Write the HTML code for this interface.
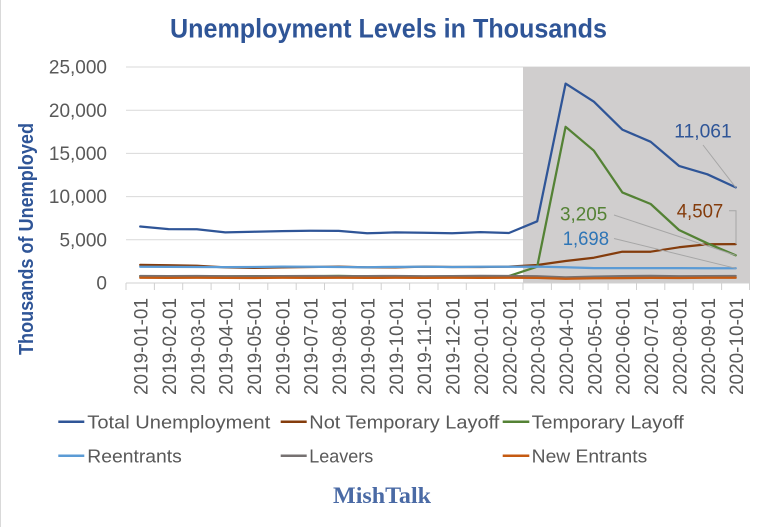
<!DOCTYPE html>
<html>
<head>
<meta charset="utf-8">
<style>
html,body{margin:0;padding:0;background:#fff;}
svg{display:block;}
text{font-family:"Liberation Sans",Arial,sans-serif;}
</style>
</head>
<body>
<svg width="758" height="527" viewBox="0 0 758 527" xmlns="http://www.w3.org/2000/svg">
<rect x="0" y="0" width="758" height="527" fill="#ffffff"/>
<line x1="0.5" y1="0" x2="0.5" y2="527" stroke="#d9d9d9" stroke-width="1"/>

<!-- Title -->
<text x="170" y="37.7" font-size="27" font-weight="bold" fill="#2f5597" textLength="437" lengthAdjust="spacingAndGlyphs">Unemployment Levels in Thousands</text>

<!-- Y axis title -->
<text transform="translate(33,239) rotate(-90)" x="0" y="0" text-anchor="middle" font-size="20" font-weight="bold" fill="#2f5597" textLength="232" lengthAdjust="spacingAndGlyphs">Thousands  of Unemployed</text>

<!-- gridlines -->
<g stroke="#d9d9d9" stroke-width="1">
<line x1="126" y1="67" x2="750" y2="67"/>
<line x1="126" y1="110.2" x2="750" y2="110.2"/>
<line x1="126" y1="153.4" x2="750" y2="153.4"/>
<line x1="126" y1="196.6" x2="750" y2="196.6"/>
<line x1="126" y1="239.8" x2="750" y2="239.8"/>
</g>

<!-- shaded region -->
<rect x="523" y="67" width="227" height="216" fill="#d0cece"/>

<!-- axis & ticks -->
<g stroke="#d0d0d0" stroke-width="1">
<line x1="126" y1="283" x2="750" y2="283"/>
<line x1="126" y1="283" x2="126" y2="290"/>
<line x1="154.4" y1="283" x2="154.4" y2="290"/>
<line x1="182.7" y1="283" x2="182.7" y2="290"/>
<line x1="211.1" y1="283" x2="211.1" y2="290"/>
<line x1="239.4" y1="283" x2="239.4" y2="290"/>
<line x1="267.8" y1="283" x2="267.8" y2="290"/>
<line x1="296.2" y1="283" x2="296.2" y2="290"/>
<line x1="324.5" y1="283" x2="324.5" y2="290"/>
<line x1="352.9" y1="283" x2="352.9" y2="290"/>
<line x1="381.2" y1="283" x2="381.2" y2="290"/>
<line x1="409.6" y1="283" x2="409.6" y2="290"/>
<line x1="438" y1="283" x2="438" y2="290"/>
<line x1="466.3" y1="283" x2="466.3" y2="290"/>
<line x1="494.7" y1="283" x2="494.7" y2="290"/>
<line x1="523" y1="283" x2="523" y2="290"/>
<line x1="551.4" y1="283" x2="551.4" y2="290"/>
<line x1="579.8" y1="283" x2="579.8" y2="290"/>
<line x1="608.1" y1="283" x2="608.1" y2="290"/>
<line x1="636.5" y1="283" x2="636.5" y2="290"/>
<line x1="664.8" y1="283" x2="664.8" y2="290"/>
<line x1="693.2" y1="283" x2="693.2" y2="290"/>
<line x1="721.6" y1="283" x2="721.6" y2="290"/>
<line x1="749.5" y1="283" x2="749.5" y2="290"/>
</g>

<!-- Y tick labels -->
<g font-size="19" fill="#595959" text-anchor="end">
<text x="107" y="73.6">25,000</text>
<text x="107" y="116.8">20,000</text>
<text x="107" y="160">15,000</text>
<text x="107" y="203.2">10,000</text>
<text x="107" y="246.4">5,000</text>
<text x="107" y="289.6">0</text>
</g>

<!-- X tick labels -->
<g font-size="19" fill="#595959" text-anchor="end">
<text transform="translate(147.6,298) rotate(-90)" textLength="97" lengthAdjust="spacingAndGlyphs">2019-01-01</text>
<text transform="translate(175.9,298) rotate(-90)" textLength="97" lengthAdjust="spacingAndGlyphs">2019-02-01</text>
<text transform="translate(204.3,298) rotate(-90)" textLength="97" lengthAdjust="spacingAndGlyphs">2019-03-01</text>
<text transform="translate(232.7,298) rotate(-90)" textLength="97" lengthAdjust="spacingAndGlyphs">2019-04-01</text>
<text transform="translate(261,298) rotate(-90)" textLength="97" lengthAdjust="spacingAndGlyphs">2019-05-01</text>
<text transform="translate(289.4,298) rotate(-90)" textLength="97" lengthAdjust="spacingAndGlyphs">2019-06-01</text>
<text transform="translate(317.7,298) rotate(-90)" textLength="97" lengthAdjust="spacingAndGlyphs">2019-07-01</text>
<text transform="translate(346.1,298) rotate(-90)" textLength="97" lengthAdjust="spacingAndGlyphs">2019-08-01</text>
<text transform="translate(374.5,298) rotate(-90)" textLength="97" lengthAdjust="spacingAndGlyphs">2019-09-01</text>
<text transform="translate(402.8,298) rotate(-90)" textLength="97" lengthAdjust="spacingAndGlyphs">2019-10-01</text>
<text transform="translate(431.2,298) rotate(-90)" textLength="97" lengthAdjust="spacingAndGlyphs">2019-11-01</text>
<text transform="translate(459.5,298) rotate(-90)" textLength="97" lengthAdjust="spacingAndGlyphs">2019-12-01</text>
<text transform="translate(487.9,298) rotate(-90)" textLength="97" lengthAdjust="spacingAndGlyphs">2020-01-01</text>
<text transform="translate(516.3,298) rotate(-90)" textLength="97" lengthAdjust="spacingAndGlyphs">2020-02-01</text>
<text transform="translate(544.6,298) rotate(-90)" textLength="97" lengthAdjust="spacingAndGlyphs">2020-03-01</text>
<text transform="translate(573,298) rotate(-90)" textLength="97" lengthAdjust="spacingAndGlyphs">2020-04-01</text>
<text transform="translate(601.3,298) rotate(-90)" textLength="97" lengthAdjust="spacingAndGlyphs">2020-05-01</text>
<text transform="translate(629.7,298) rotate(-90)" textLength="97" lengthAdjust="spacingAndGlyphs">2020-06-01</text>
<text transform="translate(658.1,298) rotate(-90)" textLength="97" lengthAdjust="spacingAndGlyphs">2020-07-01</text>
<text transform="translate(686.4,298) rotate(-90)" textLength="97" lengthAdjust="spacingAndGlyphs">2020-08-01</text>
<text transform="translate(714.8,298) rotate(-90)" textLength="97" lengthAdjust="spacingAndGlyphs">2020-09-01</text>
<text transform="translate(743.1,298) rotate(-90)" textLength="97" lengthAdjust="spacingAndGlyphs">2020-10-01</text>
</g>

<!-- Series -->
<g fill="none" stroke-width="2.25" stroke-linejoin="round" stroke-linecap="round">
<polyline stroke="#2f5597" points="140.2,226.5 168.5,229.1 196.9,229.3 225.3,232.4 253.6,231.7 282,231.1 310.3,230.7 338.7,230.9 367.1,233.3 395.4,232.4 423.8,232.8 452.1,233.3 480.5,232.1 508.9,233 537.2,221.3 565.6,83.6 593.9,101.7 622.3,129.6 650.7,141.8 679,165.9 707.4,174.3 735.7,187.4"/>
<polyline stroke="#843c0c" points="140.2,264.9 168.5,265.3 196.9,265.7 225.3,267.4 253.6,267.9 282,267.4 310.3,267 338.7,266.6 367.1,267.4 395.4,267.4 423.8,266.6 452.1,267 480.5,267 508.9,266.6 537.2,265 565.6,261 593.9,257.7 622.3,251.7 650.7,251.7 679,247.3 707.4,244.3 735.7,244.1"/>
<polyline stroke="#548235" points="140.2,276.1 168.5,276.3 196.9,276.2 225.3,276.4 253.6,276.1 282,276.2 310.3,276.1 338.7,275.9 367.1,276.4 395.4,276.3 423.8,276.6 452.1,276.4 480.5,276.3 508.9,276.1 537.2,266.7 565.6,126.8 593.9,150.7 622.3,192.4 650.7,204 679,230 707.4,243.3 735.7,255.3"/>
<polyline stroke="#5b9bd5" points="140.2,266.8 168.5,266.9 196.9,267 225.3,267.1 253.6,267 282,266.6 310.3,266.8 338.7,267 367.1,267.2 395.4,266.9 423.8,266.8 452.1,267 480.5,266.8 508.9,266.8 537.2,266.6 565.6,267.2 593.9,268.1 622.3,268.1 650.7,268.1 679,268.1 707.4,268.3 735.7,268.3"/>
<polyline stroke="#767171" points="140.2,276 168.5,276.1 196.9,276 225.3,276.3 253.6,276.2 282,276.1 310.3,276 338.7,276.2 367.1,276.1 395.4,276 423.8,276.3 452.1,276.1 480.5,275.9 508.9,276 537.2,276.3 565.6,277.4 593.9,276.6 622.3,276.1 650.7,275.9 679,276.2 707.4,276.1 735.7,276"/>
<polyline stroke="#c55a11" points="140.2,277.8 168.5,277.9 196.9,277.7 225.3,277.9 253.6,278 282,277.8 310.3,277.9 338.7,277.8 367.1,277.9 395.4,277.8 423.8,277.9 452.1,277.8 480.5,277.9 508.9,277.8 537.2,277.9 565.6,278.7 593.9,278.3 622.3,278.1 650.7,277.9 679,278 707.4,277.8 735.7,277.7"/>
</g>

<!-- Leader lines -->
<g stroke="#a6a6a6" stroke-width="1" fill="none">
<line x1="703" y1="145" x2="735.7" y2="187.4"/>
<polyline points="729,210.7 736,210.7 736,244.1"/>
<line x1="614" y1="215" x2="735.7" y2="255.3"/>
<line x1="614" y1="238.5" x2="735.7" y2="268.3"/>
</g>

<!-- Data labels -->
<g font-size="19">
<text x="674.3" y="137.3" fill="#2f5597" textLength="57.4" lengthAdjust="spacingAndGlyphs">11,061</text>
<text x="676.7" y="217.3" fill="#843c0c" textLength="46.6" lengthAdjust="spacingAndGlyphs">4,507</text>
<text x="560" y="220.7" fill="#548235" textLength="47.3" lengthAdjust="spacingAndGlyphs">3,205</text>
<text x="562.7" y="245" fill="#2e75b6" textLength="46.3" lengthAdjust="spacingAndGlyphs">1,698</text>
</g>

<!-- Legend -->
<g stroke-width="2.5">
<line x1="58.3" y1="421.7" x2="84.3" y2="421.7" stroke="#2f5597"/>
<line x1="280.7" y1="421.7" x2="306.7" y2="421.7" stroke="#843c0c"/>
<line x1="502.7" y1="421.7" x2="529.3" y2="421.7" stroke="#548235"/>
<line x1="58.3" y1="455.7" x2="84.3" y2="455.7" stroke="#5b9bd5"/>
<line x1="280.7" y1="455.7" x2="306.7" y2="455.7" stroke="#767171"/>
<line x1="502.7" y1="455.7" x2="529.3" y2="455.7" stroke="#c55a11"/>
</g>
<g font-size="18.5" fill="#595959">
<text x="87.3" y="428.3" textLength="183" lengthAdjust="spacingAndGlyphs">Total Unemployment</text>
<text x="309.3" y="428.3" textLength="190" lengthAdjust="spacingAndGlyphs">Not Temporary Layoff</text>
<text x="531.7" y="428.3" textLength="152" lengthAdjust="spacingAndGlyphs">Temporary Layoff</text>
<text x="87.3" y="462.3" textLength="94.5" lengthAdjust="spacingAndGlyphs">Reentrants</text>
<text x="309.3" y="462.3" textLength="64" lengthAdjust="spacingAndGlyphs">Leavers</text>
<text x="531.7" y="462.3" textLength="115.5" lengthAdjust="spacingAndGlyphs">New Entrants</text>
</g>

<!-- Footer -->
<text x="333" y="503" style="font-family:'Liberation Serif',serif;" font-size="23.5" font-weight="bold" fill="#4a6aa5" textLength="98" lengthAdjust="spacingAndGlyphs">MishTalk</text>
</svg>
</body>
</html>
